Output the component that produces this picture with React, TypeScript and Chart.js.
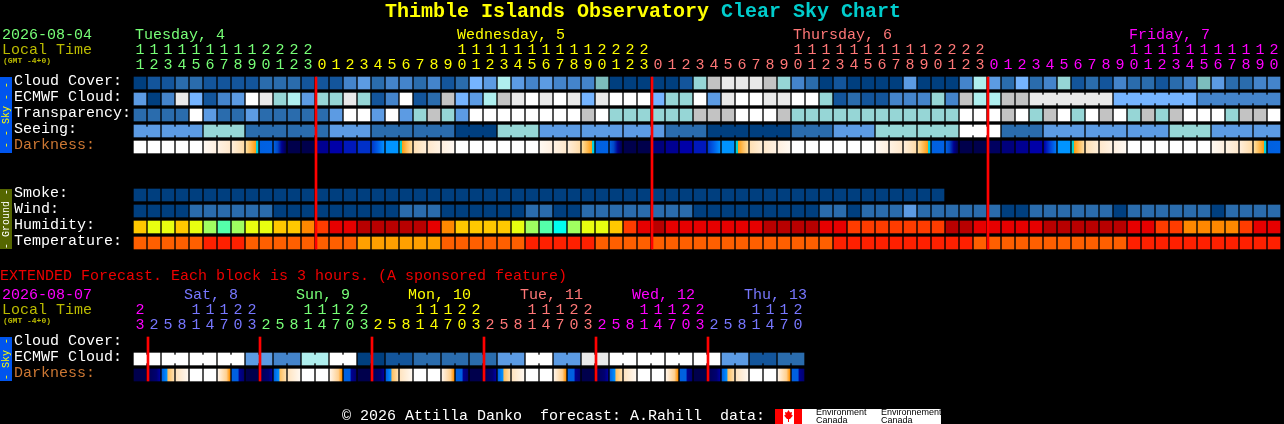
import React, { useEffect, useRef } from "react";
import { Chart, registerables } from "chart.js";

Chart.register(...registerables);

const WIDTH = 1284;
const HEIGHT = 424;

// ---------- data ----------
const mainHours = [11,12,13,14,15,16,17,18,19,20,21,22,23,0,1,2,3,4,5,6,7,8,9,10,11,12,13,14,15,16,17,18,19,20,21,22,23,0,1,2,3,4,5,6,7,8,9,10,11,12,13,14,15,16,17,18,19,20,21,22,23,0,1,2,3,4,5,6,7,8,9,10,11,12,13,14,15,16,17,18,19,20];
const extHours = [23,2,5,8,11,14,17,20,23,2,5,8,11,14,17,20,23,2,5,8,11,14,17,20,23,2,5,8,11,14,17,20,23,2,5,8,11,14,17,20,23,2,5,8,11,14,17,20];

const cloudCover = "A B B C C B B B B C C C B B B D E C D D C D B C F E I E D E D D D G A A A A A B H J K K K J H D C A B A A A A E A A A D I E C F C D H B C B D C C B C D G E C C D D".split(" ");
const ecmwfCloud = "E A D K F B D E L K H I E H H K H B D L B C J F E I J K L K L K F K L L L F H H L E K L L K K L L H B C B B D D D H D J I I J J K K K K K K F F F F F F D D D D D D".split(" ");
const transparency = "C C C C L E C C E C C C C C E L L E L E H J H E L L L L L L L L J L H H H H H H J J J L L L J H H H H H H H H H H H H L L L J L H J L H L J L H J H J L L L H J J L".split(" ");
const seeing = "E E E E E H H H C C C C C C E E E C C C C C C A A A H H H E E E E E E E E E C C C A A A A A A C C C E E E H H H H H H L L L C C C E E E E E E E E E H H H E E E E E".split(" ");
const darkness = "w w w w w s1 s2 s3 ss b1 b2 n0 n0 n3 n4 n5 n6 r1 sk sr d3 d2 d1 w w w w w w s1 s2 s3 ss b1 b2 n0 n0 n2 n3 n4 n5 r1 sk sr d3 d2 d1 w w w w w w s1 s2 s3 ss b1 b2 n0 n0 n1 n2 n3 n4 r2 sk sr d3 d2 d1 w w w w w w s1 s2 s3 ss b1".split(" ");
const smoke = "A A A A A A A A A A A A A A A A A A A A A A A A A A A A A A A A A A A A A A A A A A A A A A A A A A A A A A A A A A".split(" ");
const wind = "A A A A C C C C C C A A A A A A A A A C C C A A A A A A C C A A C C C C C C C C A A A A A A A A A C C A C C C E C C C C C C A A C C C C C C A C C C C C C A C C C C".split(" ");
const humidity = "O Y Y O Y G T G Y Y O O P R S S D D D D D S P O O O O Y G T C G Y Y O R S D S S S S S S S D D D D S S R R R R R R R D D S S S S S D D D D D D S S R R P P P P R S S".split(" ");
const temperature = "M M M M M H H H M M M M M M M M L L L L L L M M M M M M H H H H H M M M M M M M M M M M M M M M M M H H H H H H H H H H M M M M M M M M M M M H H H H H H H H H H H".split(" ");

const extEcmwf = "L L L L L L L L E E D D I I L L A A B B C C C C C C E E L L E E K K L L L L L L L L E E B B C C".split(" ");
const extDarkness = "e0 e1 e2 e3 w w e6 e7 e0 e1 e2 e3 w w e6 e7 e0 e1 e2 e3 w w e6 e7 e0 e1 e2 e3 w w e6 e7 e0 e1 e2 e3 w w e6 e7 e0 e1 e2 e3 w w e6 e7".split(" ");

const mainMidnights = [13, 37, 61];
const extMidnights = [1, 9, 17, 25, 33, 41];

const mainDays = [
  { label: "Tuesday, 4", col: 0, from: 0, to: 13, color: "#77ff77" },
  { label: "Wednesday, 5", col: 23, from: 13, to: 37, color: "#ffff00" },
  { label: "Thursday, 6", col: 47, from: 37, to: 61, color: "#ff7777" },
  { label: "Friday, 7", col: 71, from: 61, to: 82, color: "#ff00ff" },
];
const extDays = [
  { label: "", col: 0, from: 0, to: 1, color: "#ff00ff" },
  { label: "Sat, 8", col: 3.64, from: 1, to: 9, color: "#7777ff" },
  { label: "Sun, 9", col: 11.64, from: 9, to: 17, color: "#77ff77" },
  { label: "Mon, 10", col: 19.64, from: 17, to: 25, color: "#ffff00" },
  { label: "Tue, 11", col: 27.64, from: 25, to: 33, color: "#ff7777" },
  { label: "Wed, 12", col: 35.64, from: 33, to: 41, color: "#ff00ff" },
  { label: "Thu, 13", col: 43.64, from: 41, to: 48, color: "#7777ff" },
];

// ---------- palettes ----------
const cloudColors: Record<string, string> = {
  A: "#003F7F", B: "#13559B", C: "#2A6CAD", D: "#4484CB", E: "#5C9BE3", F: "#75B4FF",
  G: "#7CBDBD", H: "#96D6D6", I: "#AFEFEF", J: "#C3C3C3", K: "#E9E9E9", L: "#FFFFFF",
};
const humidityColors: Record<string, string> = {
  C: "#00FFEE", T: "#55FFAA", G: "#A0FF60", Y: "#E8FF10", O: "#FFC800", P: "#FF8800",
  R: "#FF3C00", S: "#E60000", D: "#B80000",
};
const temperatureColors: Record<string, string> = { L: "#FFA000", M: "#FF5F00", H: "#FF2000" };
const darknessStops: Record<string, [number, string][]> = {
  w: [[0, "#ffffff"], [1, "#ffffff"]],
  s1: [[0, "#fff9f2"], [1, "#fff0e0"]],
  s2: [[0, "#fff2e3"], [1, "#ffe8cc"]],
  s3: [[0, "#ffeeda"], [1, "#ffdca8"]],
  ss: [[0, "#ffdf9f"], [0.82, "#ff9c10"], [0.84, "#00d0e0"], [1, "#00d0e0"]],
  b1: [[0, "#0060e0"], [1, "#0062e4"]],
  b2: [[0, "#0060e0"], [0.3, "#0048c8"], [0.65, "#000090"], [1, "#000050"]],
  n0: [[0, "#00004c"], [1, "#00004c"]],
  n1: [[0, "#000060"], [1, "#000060"]],
  n2: [[0, "#00007c"], [1, "#00007c"]],
  n3: [[0, "#000092"], [1, "#000092"]],
  n4: [[0, "#0000a8"], [1, "#0000a8"]],
  n5: [[0, "#0018bc"], [1, "#0018bc"]],
  n6: [[0, "#0030c8"], [1, "#0030c8"]],
  r1: [[0, "#0038c8"], [0.5, "#0060e8"], [1, "#0090ff"]],
  r2: [[0, "#0000a8"], [0.5, "#0040d8"], [1, "#0078f4"]],
  sk: [[0, "#0094ff"], [1, "#0094ff"]],
  sr: [[0, "#00d0d0"], [0.16, "#00d0d0"], [0.18, "#ff9c10"], [0.6, "#ffc060"], [1, "#ffdda0"]],
  d3: [[0, "#ffe0b4"], [1, "#ffeed8"]],
  d2: [[0, "#ffe8cc"], [1, "#fff2e3"]],
  d1: [[0, "#fff0e0"], [1, "#fff9f2"]],
  e0: [[0, "#00004c"], [1, "#00004c"]],
  e1: [[0, "#000056"], [0.7, "#000070"], [1, "#0000a0"]],
  e2: [[0, "#0060e0"], [0.4, "#0090ff"], [0.5, "#ffc060"], [1, "#ffe0b0"]],
  e3: [[0, "#ffe4c0"], [1, "#fff8f0"]],
  e6: [[0, "#fff4e8"], [0.7, "#ffd090"], [1, "#ff9000"]],
  e7: [[0, "#0060e0"], [0.5, "#0060e0"], [0.6, "#000090"], [1, "#000070"]],
};

// ---------- row positions, in row units of the y scale ----------
const ROW = {
  cloud: 0, ecmwf: 1, transparency: 2, seeing: 3, darkness: 4,
  smoke: 7, wind: 8, humidity: 9, temperature: 10,
  extCloud: 16.25, extEcmwf: 17.25, extDarkness: 18.25,
};
const CELL_HALF = 0.375;
const BRIDGE_HALF = 0.25;
const RULE_NUDGE = 1 / 14;

function cellDataset(row: number, values: string[], palette: Record<string, string>) {
  return {
    data: values.map((_, i) => ({ x: i + 0.5, y: [row - CELL_HALF, row + CELL_HALF] })),
    backgroundColor: values.map((v) => palette[v]),
    barThickness: 12,
  };
}
function gradientDataset(row: number, values: string[]) {
  return {
    data: values.map((_, i) => ({ x: i + 0.5, y: [row - CELL_HALF, row + CELL_HALF] })),
    barThickness: 12,
    backgroundColor: (c: any) => {
      const stops = darknessStops[values[c.dataIndex]];
      const xs = c.chart.scales.x;
      const cx = xs ? xs.getPixelForValue(c.dataIndex + 0.5) : NaN;
      if (!stops || !Number.isFinite(cx)) return "#000";
      const g = c.chart.ctx.createLinearGradient(cx - 6, 0, cx + 6, 0);
      stops.forEach(([o, col]) => g.addColorStop(o, col));
      return g;
    },
  };
}
function bridgeDataset(row: number, values: string[], joined: (i: number) => boolean, palette: Record<string, string>) {
  const cols = values.map((_, i) => i).filter((i) => i > 0 && joined(i));
  return {
    data: cols.map((i) => ({ x: i, y: [row - BRIDGE_HALF, row + BRIDGE_HALF] })),
    backgroundColor: cols.map((i) => palette[values[i]]),
    barThickness: 2,
  };
}
function ruleDataset(cols: number[], top: number, bottom: number) {
  return {
    order: -1,
    data: cols.map((i) => ({ x: i + RULE_NUDGE, y: [top - CELL_HALF, bottom + CELL_HALF] })),
    backgroundColor: "#ff0000",
    barThickness: 2,
  };
}

const MONO = '"Liberation Mono", "DejaVu Sans Mono", monospace';

const textPlugin = {
  id: "cscText",
  beforeDraw(chart: any) {
    const c = chart.ctx;
    c.save();
    c.fillStyle = "#000";
    c.fillRect(0, 0, WIDTH, HEIGHT);
    c.restore();
  },
  afterDraw(chart: any) {
    const c: CanvasRenderingContext2D = chart.ctx;
    const xs = chart.scales.x;
    const ys = chart.scales.y;
    const text = (s: string, x: number, y: number, color: string, font = `15px ${MONO}`, align: CanvasTextAlign = "left") => {
      c.font = font;
      c.fillStyle = color;
      c.textAlign = align;
      c.textBaseline = "middle";
      c.fillText(s, x, y);
    };
    c.save();

    // title
    const titleFont = `bold 20px ${MONO}`;
    text("Thimble Islands Observatory", 385, 12, "#ffff00", titleFont);
    text("Clear Sky Chart", 721, 12, "#00cccc", titleFont);

    // main header
    text("2026-08-04", 2, 35, "#77ff77");
    text("Local Time", 2, 50, "#bbbb00");
    text("(GMT -4+0)", 3, 61, "#bbbb00", `bold 8px ${MONO}`);
    mainDays.forEach((d) => {
      text(d.label, xs.getPixelForValue(d.col) + 2, 35, d.color);
      for (let i = d.from; i < d.to; i++) {
        const h = mainHours[i];
        const cx = xs.getPixelForValue(i + 0.5);
        if (h >= 10) text(String(Math.floor(h / 10)), cx, 50, d.color, undefined, "center");
        text(String(h % 10), cx, 65, d.color, undefined, "center");
      }
    });

    // row labels
    const labelRow = (s: string, row: number, color = "#ffffff") =>
      text(s, 14, ys.getPixelForValue(row) - 2, color);
    labelRow("Cloud Cover:", ROW.cloud);
    labelRow("ECMWF Cloud:", ROW.ecmwf);
    labelRow("Transparency:", ROW.transparency);
    labelRow("Seeing:", ROW.seeing);
    labelRow("Darkness:", ROW.darkness, "#cc7733");
    labelRow("Smoke:", ROW.smoke);
    labelRow("Wind:", ROW.wind);
    labelRow("Humidity:", ROW.humidity);
    labelRow("Temperature:", ROW.temperature);

    // extended
    text("EXTENDED Forecast. Each block is 3 hours. (A sponsored feature)", 0, 276, "#ee0000");
    text("2026-08-07", 2, 295, "#ff00ff");
    text("Local Time", 2, 310, "#bbbb00");
    text("(GMT -4+0)", 3, 321, "#bbbb00", `bold 8px ${MONO}`);
    extDays.forEach((d) => {
      if (d.label) text(d.label, xs.getPixelForValue(d.col), 295, d.color);
      for (let i = d.from; i < d.to; i++) {
        const h = extHours[i];
        const cx = xs.getPixelForValue(i + 0.5);
        if (h >= 10) text(String(Math.floor(h / 10)), cx, 310, d.color, undefined, "center");
        text(String(h % 10), cx, 325, d.color, undefined, "center");
      }
    });
    labelRow("Cloud Cover:", ROW.extCloud);
    labelRow("ECMWF Cloud:", ROW.extEcmwf);
    labelRow("Darkness:", ROW.extDarkness, "#cc7733");

    // side tabs
    const tab = (label: string, top: number, bottom: number, bg: string, fg: string) => {
      const y0 = ys.getPixelForValue(top - CELL_HALF);
      const y1 = ys.getPixelForValue(bottom + CELL_HALF);
      c.fillStyle = bg;
      c.fillRect(0, y0, 12, y1 - y0);
      c.save();
      c.translate(6, (y0 + y1) / 2);
      c.rotate(-Math.PI / 2);
      text(label, 0, 0, fg, `10px ${MONO}`, "center");
      c.restore();
    };
    tab("- - Sky - -", ROW.cloud, ROW.darkness, "#0055ee", "#ffff00");
    tab("- Ground -", ROW.smoke, ROW.temperature, "#556600", "#ffffff");
    tab("- Sky -", ROW.extCloud, ROW.extDarkness, "#0055ee", "#ffff00");

    // footer
    text("\u00a9 2026 Attilla Danko  forecast: A.Rahill  data:", 342, 416, "#ffffff");
    c.fillStyle = "#ffffff";
    c.fillRect(775, 409, 166, 15);
    c.fillStyle = "#ff0000";
    c.fillRect(775, 409, 8, 15);
    c.fillRect(794, 409, 8, 15);
    c.beginPath();
    [[788.5, 410], [790, 412.5], [792, 412], [791.5, 415], [793, 415.5], [790, 419], [789, 419], [789, 422], [788, 422], [788, 419], [787, 419], [784, 415.5], [785.5, 415], [785, 412], [787, 412.5]].forEach(([x, y], i) =>
      i ? c.lineTo(x, y) : c.moveTo(x, y));
    c.closePath();
    c.fill();
    const small = '9px "Liberation Sans", sans-serif';
    text("Environment", 816, 413, "#000000", small);
    text("Canada", 816, 421, "#000000", small);
    text("Environnement", 881, 413, "#000000", small);
    text("Canada", 881, 421, "#000000", small);
    c.restore();
  },
};

export default function App() {
  const ref = useRef<HTMLCanvasElement | null>(null);
  useEffect(() => {
    document.body.style.margin = "0";
    document.body.style.background = "#000";
    const datasets: any[] = [
      ruleDataset(mainMidnights, ROW.cloud, ROW.temperature),
      ruleDataset(extMidnights, ROW.extCloud, ROW.extDarkness),
      cellDataset(ROW.cloud, cloudCover, cloudColors),
      cellDataset(ROW.ecmwf, ecmwfCloud, cloudColors),
      bridgeDataset(ROW.ecmwf, ecmwfCloud, (i) => i >= 65 && i !== 70 && i !== 76, cloudColors),
      cellDataset(ROW.transparency, transparency, cloudColors),
      cellDataset(ROW.seeing, seeing, cloudColors),
      bridgeDataset(ROW.seeing, seeing, (i) => (i + 1) % 3 !== 0, cloudColors),
      gradientDataset(ROW.darkness, darkness),
      cellDataset(ROW.smoke, smoke, cloudColors),
      cellDataset(ROW.wind, wind, cloudColors),
      cellDataset(ROW.humidity, humidity, humidityColors),
      cellDataset(ROW.temperature, temperature, temperatureColors),
      cellDataset(ROW.extEcmwf, extEcmwf, cloudColors),
      bridgeDataset(ROW.extEcmwf, extEcmwf, (i) => i % 2 === 1, cloudColors),
      gradientDataset(ROW.extDarkness, extDarkness),
    ];
    const chart = new Chart(ref.current as HTMLCanvasElement, {
      type: "bar",
      data: { datasets },
      plugins: [textPlugin],
      options: {
        animation: false,
        responsive: false,
        devicePixelRatio: 1,
        events: [],
        grouped: false,
        layout: { padding: { left: 133, right: 3, top: 75, bottom: 39 } },
        plugins: { legend: { display: false }, tooltip: { enabled: false } },
        scales: {
          x: { type: "linear", offset: false, min: 0, max: 82, display: false, grid: { display: false } },
          y: { type: "linear", reverse: true, min: -0.5, max: 18.875, display: false, grid: { display: false } },
        },
      },
    } as any);
    return () => chart.destroy();
  }, []);
  return (
    <div style={{ position: "absolute", left: 0, top: 0, width: WIDTH, height: HEIGHT, background: "#000", overflow: "hidden" }}>
      <canvas ref={ref} width={WIDTH} height={HEIGHT} style={{ display: "block" }} />
    </div>
  );
}
